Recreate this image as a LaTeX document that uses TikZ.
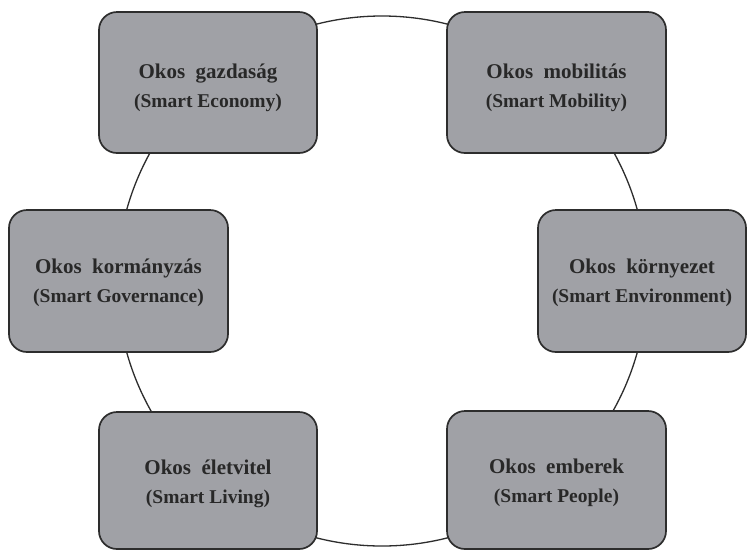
\documentclass[tikz,border=0pt]{standalone}
\usepackage{fontspec}
\setmainfont{Liberation Serif}
\definecolor{boxfill}{RGB}{160,161,166}
\definecolor{edge}{RGB}{45,45,45}
\definecolor{txt}{RGB}{40,40,40}
\begin{document}
\begin{tikzpicture}[x=1pt,y=-1pt,
  area/.style={draw=edge, line width=1.7pt, fill=boxfill, rounded corners=18pt, inner sep=0pt},
  caption/.style={align=center, text=txt, inner sep=0pt,
    font=\bfseries\fontsize{21}{29}\selectfont},
  ringstyle/.style={draw=edge, line width=1.3pt, circle, minimum size=530pt, inner sep=0pt}]
\useasboundingbox (0,0) rectangle (747,550);
\fill[white] (0,0) rectangle (747,550);
\node[ringstyle] (ring) at (382,281) {};
\newcommand{\twolines}[2]{#1\\{\fontsize{19.5}{29}\selectfont #2}}
\node[area, minimum width=218pt, minimum height=141pt] (econ) at (208,82.5) {};
\node[area, minimum width=219pt, minimum height=141pt] (mob) at (556.5,82.5) {};
\node[area, minimum width=219pt, minimum height=142pt] (gov) at (118.5,281) {};
\node[area, minimum width=208pt, minimum height=142pt] (env) at (642,281) {};
\node[area, minimum width=218pt, minimum height=137pt] (liv) at (208,480.5) {};
\node[area, minimum width=219pt, minimum height=138pt] (peo) at (556.5,480) {};
\node[caption, yshift=-5pt] (econT) at (econ.center) {\twolines{Okos\ \ gazdaság}{(Smart Economy)}};
\node[caption, yshift=-5pt] (mobT) at (mob.center) {\twolines{Okos\ \ mobilitás}{(Smart Mobility)}};
\node[caption, yshift=-2pt] (govT) at (gov.center) {\twolines{Okos\ \ kormányzás}{(Smart Governance)}};
\node[caption, yshift=-2pt] (envT) at (env.center) {\twolines{Okos\ \ környezet}{(Smart Environment)}};
\node[caption, yshift=-3pt] (livT) at (liv.center) {\twolines{Okos\ \ életvitel}{(Smart Living)}};
\node[caption, yshift=-3pt] (peoT) at (peo.center) {\twolines{Okos\ \ emberek}{(Smart People)}};
\end{tikzpicture}
\end{document}
